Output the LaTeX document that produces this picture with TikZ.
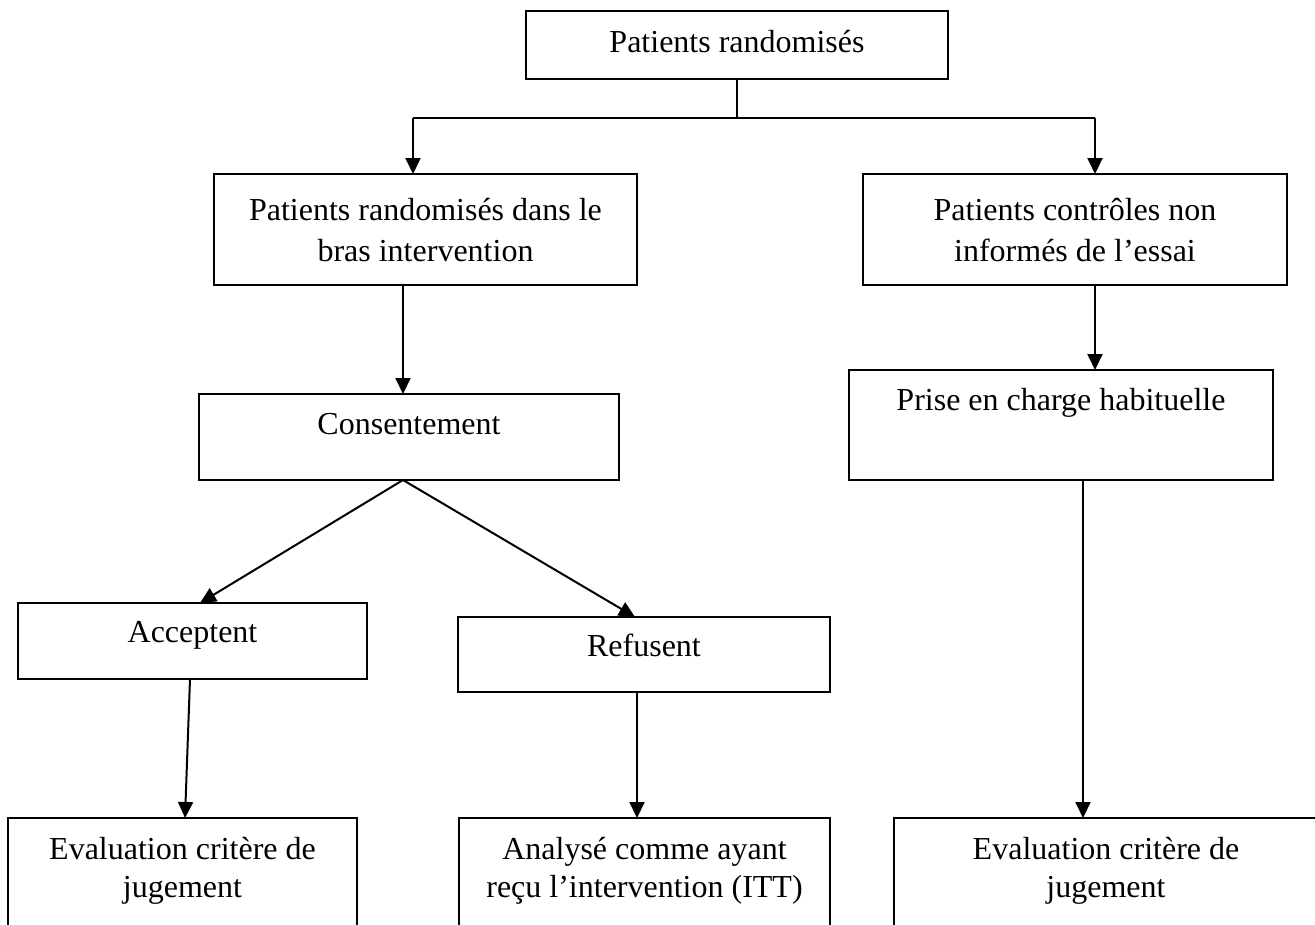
\documentclass[tikz,border=0pt]{standalone}
\usepackage{fontspec}
\setmainfont{Liberation Serif}
\usetikzlibrary{arrows.meta}
\begin{document}
\begin{tikzpicture}[x=1pt,y=-1pt,
  box/.style={draw=black, line width=2pt, inner sep=0pt, outer sep=0pt},
  lbl/.style={anchor=base, inner sep=0pt, font=\fontsize{32}{40}\selectfont},
  link/.style={line width=2pt},
  arr/.style={link, -{Triangle[length=16pt,width=15pt]}}]
\clip (0,0) rectangle (1315,924);
\useasboundingbox (0,0) rectangle (1315,924);

% boxes
\node[box, minimum width=422pt, minimum height=68pt]  (b1)  at (737,45) {};
\node[box, minimum width=423pt, minimum height=111pt] (b2)  at (425.5,229.5) {};
\node[box, minimum width=424pt, minimum height=111pt] (b3)  at (1075,229.5) {};
\node[box, minimum width=420pt, minimum height=86pt]  (b4)  at (409,437) {};
\node[box, minimum width=424pt, minimum height=110pt] (b5)  at (1061,425) {};
\node[box, minimum width=349pt, minimum height=76pt]  (b6)  at (192.5,641) {};
\node[box, minimum width=372pt, minimum height=75pt]  (b7)  at (644,654.5) {};
\node[box, minimum width=349pt, minimum height=142pt] (b8)  at (182.5,889) {};
\node[box, minimum width=371pt, minimum height=142pt] (b9)  at (644.5,889) {};
\node[box, minimum width=424pt, minimum height=142pt] (b10) at (1106,889) {};

% labels
\node[lbl] (t1)  at (737,52) {Patients randomisés};
\node[lbl] (t2a) at (425.5,220) {Patients randomisés dans le};
\node[lbl] (t2b) at (425.5,261) {bras intervention};
\node[lbl] (t3a) at (1075,220) {Patients contrôles non};
\node[lbl] (t3b) at (1075,261) {informés de l’essai};
\node[lbl] (t4)  at (409,434) {Consentement};
\node[lbl] (t5)  at (1061,410) {Prise en charge habituelle};
\node[lbl] (t6)  at (192.5,642) {Acceptent};
\node[lbl] (t7)  at (644,656) {Refusent};
\node[lbl] (t8a) at (182.5,859) {Evaluation critère de};
\node[lbl] (t8b) at (182.5,897) {jugement};
\node[lbl] (t9a) at (644.5,859) {Analysé comme ayant};
\node[lbl] (t9b) at (644.5,897) {reçu l’intervention (ITT)};
\node[lbl] (t10a) at (1106,859) {Evaluation critère de};
\node[lbl] (t10b) at (1106,897) {jugement};

% connectors
\coordinate (split) at (737,118);
\coordinate (sl) at (413,118);
\coordinate (sr) at (1095,118);
\draw[link] (b1.south) -- (split);
\draw[link] (sl) -- (sr);
\draw[arr] (sl) -- (sl |- b2.north);
\draw[arr] (sr) -- (sr |- b3.north);
\draw[arr] ([xshift=-22.5pt]b2.south) -- ([xshift=-6pt]b4.north);
\draw[arr] ([xshift=20pt]b3.south) -- ([xshift=34pt]b5.north);
\draw[arr] ([xshift=-6pt]b4.south) -- ([xshift=7.5pt]b6.north);
\draw[arr] ([xshift=-6pt]b4.south) -- ([xshift=-9pt]b7.north);
\draw[arr] ([xshift=-2.5pt]b6.south) -- ([xshift=2.5pt]b8.north);
\draw[arr] ([xshift=-7pt]b7.south) -- ([xshift=-7.5pt]b9.north);
\draw[arr] ([xshift=22pt]b5.south) -- ([xshift=-23pt]b10.north);
\end{tikzpicture}
\end{document}
